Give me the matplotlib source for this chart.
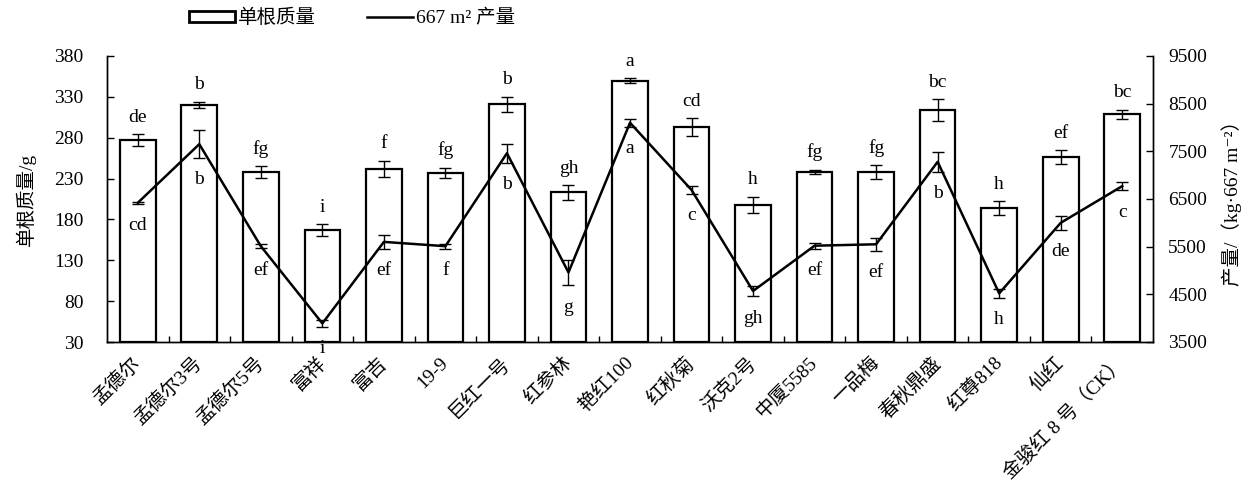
import matplotlib
matplotlib.use('Agg')
import matplotlib.pyplot as plt
import numpy as np
from matplotlib.patches import Patch
from matplotlib.lines import Line2D
from matplotlib.ticker import FixedLocator

plt.rcParams['font.family'] = ['Liberation Serif', 'Noto Sans CJK SC', 'DejaVu Sans']
plt.rcParams['axes.unicode_minus'] = False

cultivars = ['孟德尔', '孟德尔3号', '孟德尔5号', '富祥', '富吉', '19-9', '巨红一号', '红参林',
             '艳红100', '红秋菊', '沃克2号', '中厦5585', '一品梅', '春秋鼎盛', '红尊818', '仙红',
             '金骏红 8 号（CK）']
root_weight = [277, 320, 238, 167, 242, 237, 321, 213, 350, 293, 198, 238, 238, 314, 194, 256, 309]
root_weight_err = [7, 4, 7, 7, 10, 6, 9, 9, 3, 11, 10, 2.5, 8, 13, 8.5, 8.5, 5.5]
yield_667 = [6420, 7650, 5510, 3890, 5600, 5510, 7460, 4960, 8100, 6690, 4570, 5520, 5550, 7280, 4520, 6000, 6770]
yield_667_err = [20, 290, 45, 77, 150, 50, 200, 270, 80, 87, 115, 63, 136, 210, 91, 140, 87]
weight_letters = ['de', 'b', 'fg', 'i', 'f', 'fg', 'b', 'gh', 'a', 'cd', 'h', 'fg', 'fg', 'bc', 'h', 'ef', 'bc']
yield_letters = ['cd', 'b', 'ef', 'i', 'ef', 'f', 'b', 'g', 'a', 'c', 'gh', 'ef', 'ef', 'b', 'h', 'de', 'c']
left_ticks = [30, 80, 130, 180, 230, 280, 330, 380]
right_ticks = [3500, 4500, 5500, 6500, 7500, 8500, 9500]

FS = 14
W, H = 1254, 486
fig = plt.figure(figsize=(W / 100, H / 100), dpi=100)
ax = fig.add_axes([107 / W, 1 - 342 / H, (1153 - 107) / W, (342 - 56) / H])
ax2 = ax.twinx()

x = np.arange(len(cultivars))
ymin = left_ticks[0]
ax.bar(x, np.array(root_weight) - ymin, bottom=ymin, width=0.58, color='white',
       edgecolor='black', linewidth=1.6, zorder=2)
ax.errorbar(x, root_weight, yerr=root_weight_err, fmt='none', ecolor='black',
            elinewidth=1.0, capsize=4.5, capthick=1.0, zorder=3)
for xi, v, e, t in zip(x, root_weight, root_weight_err, weight_letters):
    ax.annotate(t, (xi, v + e), xytext=(0, 9), textcoords='offset points',
                ha='center', va='baseline', fontsize=FS)

ax2.plot(x, yield_667, color='black', linewidth=1.8, zorder=3)
ax2.errorbar(x, yield_667, yerr=yield_667_err, fmt='none', ecolor='black',
             elinewidth=1.0, capsize=4.5, capthick=1.0, zorder=3)
for xi, v, e, t in zip(x, yield_667, yield_667_err, yield_letters):
    ax2.annotate(t, (xi, v - e), xytext=(0, -19), textcoords='offset points',
                 ha='center', va='baseline', fontsize=FS)

ax.set_xlim(-0.5, len(cultivars) - 0.5)
ax.set_ylim(left_ticks[0], left_ticks[-1])
ax2.set_ylim(right_ticks[0], right_ticks[-1])
ax.set_yticks(left_ticks)
ax2.set_yticks(right_ticks)

ax.set_xticks(x)
ax.set_xticklabels(cultivars, rotation=45, ha='right', va='center',
                   rotation_mode='anchor', fontsize=FS)
ax.xaxis.set_minor_locator(FixedLocator(np.arange(0.5, len(cultivars) - 1, 1.0)))
ax.tick_params(axis='x', which='major', length=0, pad=13)
ax.tick_params(axis='x', which='minor', direction='in', length=4, width=1)
ax.tick_params(axis='y', direction='in', length=5, width=1, labelsize=FS, pad=17)
ax2.tick_params(axis='y', direction='in', length=5, width=1, labelsize=FS, pad=11)

for a in (ax, ax2):
    a.spines['top'].set_visible(False)
    for s in ('left', 'right', 'bottom'):
        a.spines[s].set_linewidth(1.0)

ax.set_ylabel('单根质量/g', fontsize=FS, labelpad=13)
ax2.set_ylabel('产量/（kg·667 m⁻²）', fontsize=FS, labelpad=10)

handles = [Patch(facecolor='white', edgecolor='black', linewidth=2.0),
           Line2D([0], [0], color='black', linewidth=1.8)]
fig.legend(handles, ['单根质量', '667 m² 产量'], loc='center', ncol=2,
           bbox_to_anchor=(352 / W, 1 - 18 / H), frameon=False, fontsize=FS,
           handlelength=2.4, handleheight=0.5, handletextpad=0.15, columnspacing=2.6)

fig.savefig('out.png', dpi=100)
